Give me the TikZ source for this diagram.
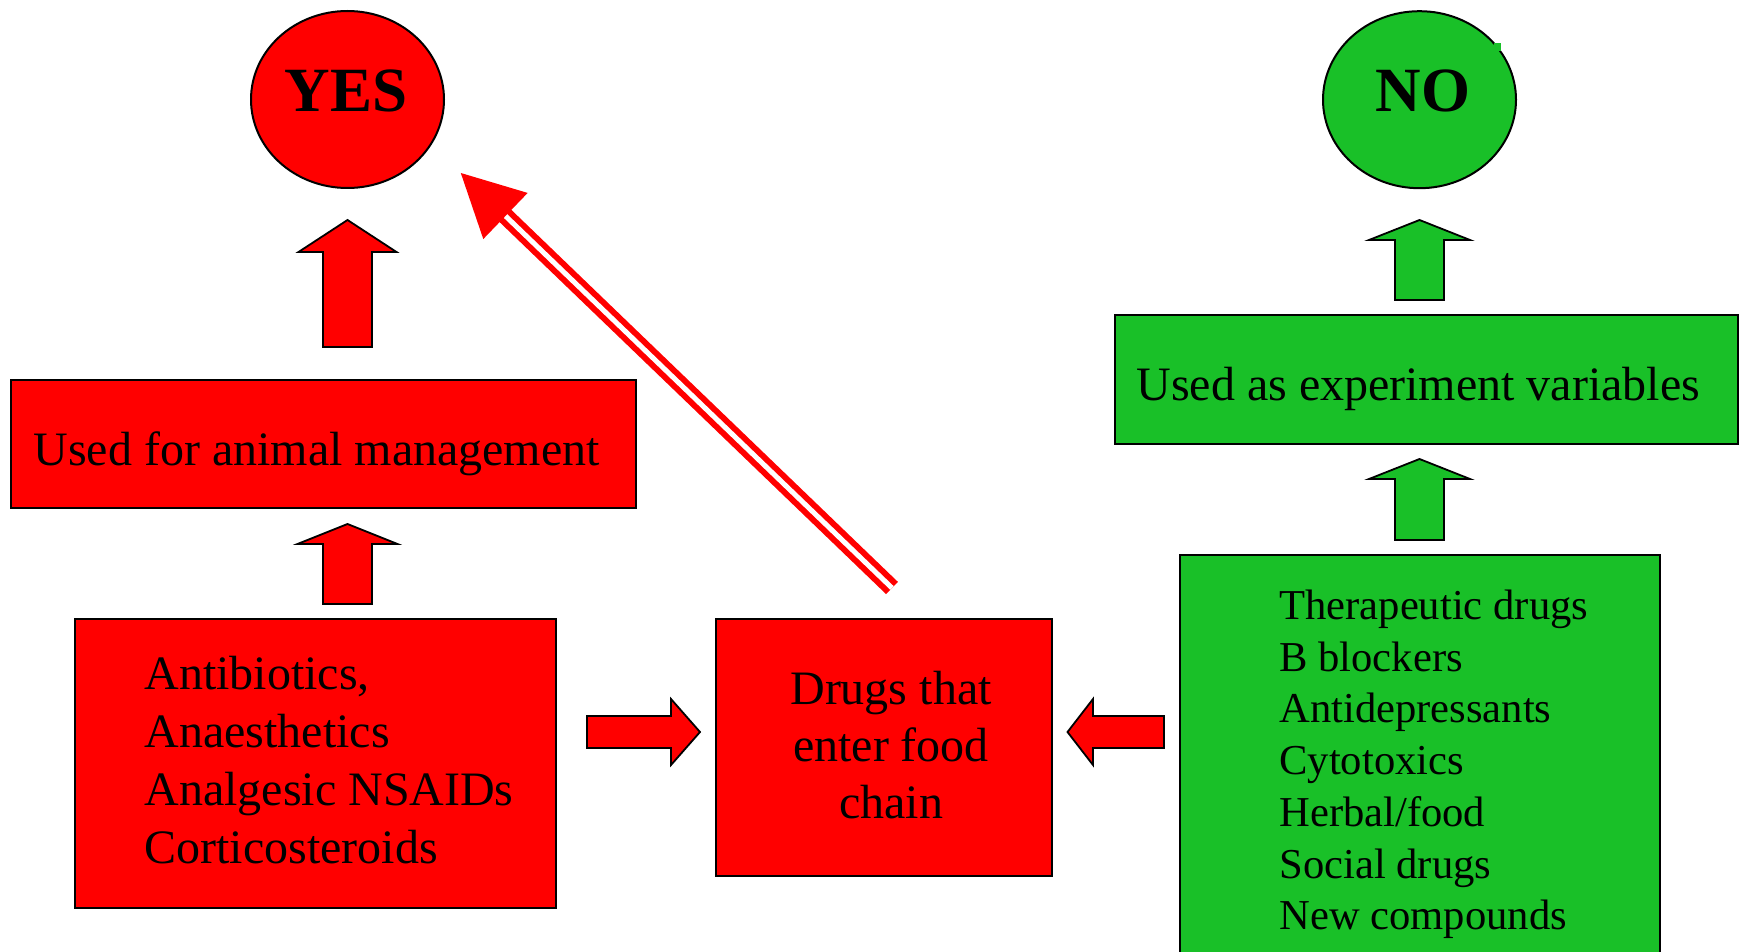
\documentclass[tikz,border=0pt]{standalone}
\usepackage{fontspec}
\setmainfont{Liberation Serif}
\usetikzlibrary{shapes.geometric,calc}
\definecolor{gr}{RGB}{25,192,40}
\definecolor{rd}{RGB}{255,0,0}
% vertical block arrow: #1 colour, #2 centre x, #3 tip y, #4 head base y, #5 tail y, #6 half head, #7 half shaft
\newcommand{\VBlk}[7]{\draw[blk, fill=#1] (#2,#3) -- (#2+#6,#4) -- (#2+#7,#4) -- (#2+#7,#5) -- (#2-#7,#5) -- (#2-#7,#4) -- (#2-#6,#4) -- cycle;}
% horizontal block arrow: #1 colour, #2 centre y, #3 tip x, #4 head base x, #5 tail x, #6 half head, #7 half shaft
\newcommand{\HBlk}[7]{\draw[blk, fill=#1] (#3,#2) -- (#4,#2-#6) -- (#4,#2-#7) -- (#5,#2-#7) -- (#5,#2+#7) -- (#4,#2+#7) -- (#4,#2+#6) -- cycle;}
\begin{document}
\begin{tikzpicture}[x=0.5pt,y=-0.5pt,
  box/.style={draw=black, line width=1.3pt, inner sep=0pt, outer sep=0pt},
  circ/.style={ellipse, draw=black, line width=1pt, inner sep=0pt, minimum width=96.5pt, minimum height=88.5pt},
  blk/.style={draw=black, line width=0.9pt, line join=miter},
  bigtxt/.style={inner sep=0pt, font=\fontsize{31.5}{36}\selectfont\bfseries},
  txt/.style={inner sep=0pt, font=\fontsize{24}{29}\selectfont},
  midtxt/.style={inner sep=0pt, font=\fontsize{24}{28.6}\selectfont},
  listtxt/.style={inner sep=0pt, font=\fontsize{21.3}{25.85}\selectfont},
  dbl/.style={draw=rd, line width=3pt, double=white, double distance=2.5pt}]
\clip (0,0) rectangle (1740,952);
\fill[white] (0,0) rectangle (1740,952);

% circles
\node[circ, fill=rd] (yes) at (347.5,99.5) {};
\node[bigtxt, anchor=base] (yesT) at (346,112) {YES};
\node[circ, fill=gr] (no) at (1419.5,99.7) {};
\node[bigtxt, anchor=base] (noT) at (1423,112) {NO};
\fill[gr] (1494,43) rectangle (1501,51);

% boxes
\node[box, fill=rd, minimum width=312.5pt, minimum height=64pt] (anim) at (323.5,444) {};
\node[txt, anchor=base west] (animT) at (33,465) {Used for animal management};

\node[box, fill=rd, minimum width=240.5pt, minimum height=144.5pt] (left) at (315.5,763.5) {};
\node[txt, anchor=base west] (leftT) at (144,689) {\begin{tabular}[t]{@{}l@{}}Antibiotics,\\Anaesthetics\\Analgesic NSAIDs\\Corticosteroids\end{tabular}};

\node[box, fill=rd, minimum width=168pt, minimum height=128.5pt] (mid) at (884,747.5) {};
\node[midtxt, anchor=base] (midT) at (891,704) {\begin{tabular}[t]{@{}c@{}}Drugs that\\enter food\\chain\end{tabular}};

\node[box, fill=gr, minimum width=311.5pt, minimum height=64.5pt] (exp) at (1426.5,379.5) {};
\node[txt, anchor=base west] (expT) at (1136,400) {Used as experiment variables};

\node[box, fill=gr, minimum width=240pt, minimum height=212.5pt] (list) at (1420,767.5) {};
\node[listtxt, anchor=base west] (listT) at (1279,619.5) {\begin{tabular}[t]{@{}l@{}}Therapeutic drugs\\B blockers\\Antidepressants\\Cytotoxics\\Herbal/food\\Social drugs\\New compounds\end{tabular}};

% block arrows
\VBlk{rd}{347.5}{220}{252}{347}{49}{24.5}
\VBlk{rd}{347.5}{524}{544}{604}{50}{24.5}
\VBlk{gr}{1419.5}{220}{240}{300}{50.5}{24.5}
\VBlk{gr}{1419.5}{459}{479}{540}{50.5}{24.5}
\HBlk{rd}{732}{700}{671}{587}{33}{16}
\HBlk{rd}{732}{1067.5}{1093}{1164}{33}{16}

% double arrow from food-chain box towards YES
\coordinate (dtail) at (892,588);
\coordinate (dtip) at (460.8,173);
\coordinate (dbase) at ($(dtip)!31pt!(dtail)$);
\draw[dbl] (dtail) -- ($(dtip)!28pt!(dtail)$);
\fill[rd] (dtip) -- ($(dbase)!16pt!90:(dtip)$) -- ($(dbase)!16pt!-90:(dtip)$) -- cycle;
\end{tikzpicture}
\end{document}
